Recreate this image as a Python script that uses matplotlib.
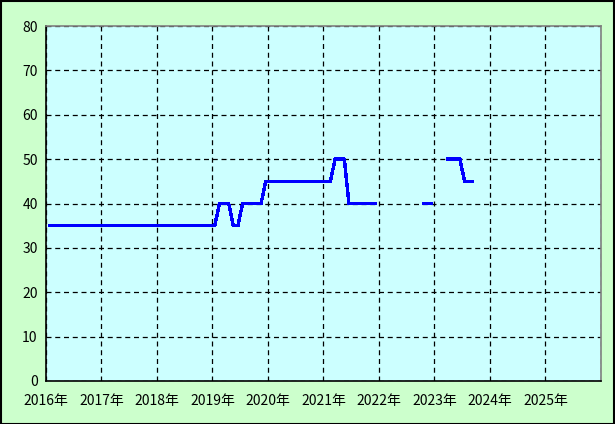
import numpy as np
import matplotlib
matplotlib.use('Agg')
import matplotlib.pyplot as plt

plt.rcParams['font.family'] = ['Noto Sans CJK JP', 'DejaVu Sans']

# monthly values, Jan 2016 .. Sep 2023 (nan = no data)
nan = np.nan
values = ([35] * 37 +            # 2016-01 .. 2019-01
          [40] * 3 +             # 2019-02 .. 04
          [35] * 2 +             # 2019-05 .. 06
          [40] * 5 +             # 2019-07 .. 11
          [45] * 15 +            # 2019-12 .. 2021-02
          [50] * 3 +             # 2021-03 .. 05
          [40] * 7 +             # 2021-06 .. 12
          [nan] * 9 +            # 2022-01 .. 09
          [40] * 3 +             # 2022-10 .. 12
          [nan] * 2 +            # 2023-01 .. 02
          [50] * 4 +             # 2023-03 .. 06
          [45] * 3)              # 2023-07 .. 09
start_year = 2016
years = list(range(2016, 2027))
year_labels = [f'{y}年' for y in years[:-1]] + ['']
y_ticks = [0, 10, 20, 30, 40, 50, 60, 70, 80]

# x position in years, points at mid-month
x = start_year + (np.arange(len(values)) + 0.5) / 12.0

fig = plt.figure(figsize=(6.15, 4.24), dpi=100, facecolor='#ccffcc')
ax = fig.add_axes([46 / 615, 43 / 424, 555 / 615, 355 / 424])
ax.set_facecolor('#ccffff')

ax.plot(x, values, color='#0000ff', linewidth=1.7, antialiased=False,
        solid_capstyle='butt', zorder=3)

ax.set_xlim(2016, 2026)
ax.set_ylim(0, 80)
ax.set_xticks(years)
ax.set_xticklabels(year_labels)
ax.set_yticks(y_ticks)
ax.tick_params(length=0, labelsize=10, colors='black')
ax.tick_params(axis='x', pad=9)
ax.tick_params(axis='y', pad=6)

ax.grid(True, color='black', linestyle=(0, (4, 3)), linewidth=0.9)
for s in ['left', 'bottom']:
    ax.spines[s].set_color('black')
    ax.spines[s].set_linewidth(1.2)
for s in ['top', 'right']:
    ax.spines[s].set_color('#808080')
    ax.spines[s].set_linewidth(1.2)

# outer frame
fig.patches.append(plt.Rectangle((0.001, 0.001), 0.997, 0.996, transform=fig.transFigure,
                                 fill=False, edgecolor='black', linewidth=1.5))

fig.savefig('out.png', dpi=100, facecolor=fig.get_facecolor())
